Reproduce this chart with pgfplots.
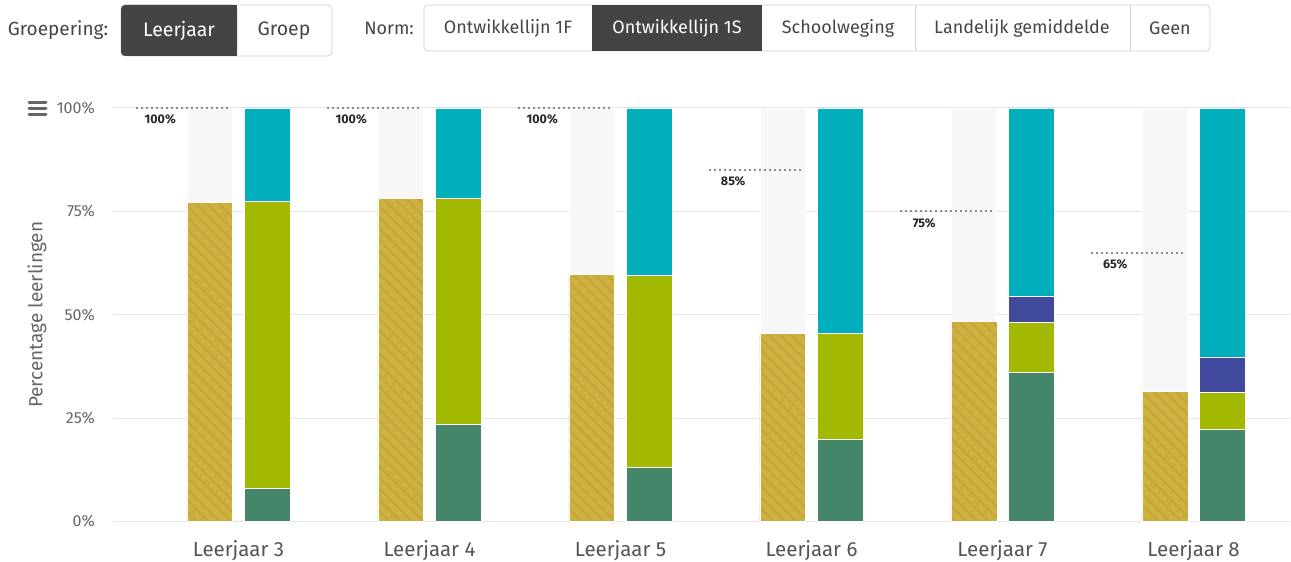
\documentclass[border=0pt]{standalone}
\usepackage{pgfplots}
\pgfplotsset{compat=1.18}
\usepackage{pgfplotstable}
\usepackage{fontspec}
\setmainfont{Fira Sans}
\usetikzlibrary{patterns.meta}
\definecolor{gold}{RGB}{206,176,64}
\definecolor{goldline}{RGB}{195,165,57}
\definecolor{bggrey}{RGB}{247,247,247}
\definecolor{cyanbar}{RGB}{0,175,187}
\definecolor{ygreen}{RGB}{163,184,0}
\definecolor{dgreen}{RGB}{67,134,106}
\definecolor{bluebar}{RGB}{64,73,155}
\definecolor{gridc}{RGB}{230,230,230}
\definecolor{labc}{RGB}{102,102,102}
\definecolor{xlabc}{RGB}{85,85,85}
\definecolor{btndark}{RGB}{68,68,68}
\definecolor{btnborder}{RGB}{210,210,210}
\definecolor{btntext}{RGB}{70,70,70}
\definecolor{dotc}{RGB}{140,140,140}

\pgfplotstableread{
x  bg   gold  norm  dg    yg    blue  cyan
0  100  77.2  100   8.0   69.5  0.0   22.5
1  100  78.2  100   23.5  54.7  0.0   21.8
2  100  59.8  100   13.1  46.5  0.0   40.4
3  100  45.5  85    19.9  25.6  0.0   54.5
4  100  48.3  75    36.1  12.1  6.3   45.5
5  100  31.5  65    22.3  8.8   8.7   60.2
}\data

\begin{document}
\begin{tikzpicture}[x=1pt,y=1pt]
\useasboundingbox (0pt,0pt) rectangle (1291pt,562pt);
\fill[white] (0pt,0pt) rectangle (1291pt,562pt);

% ---------- top controls ----------
\node[font=\fontsize{19}{22}\selectfont, text=btntext] at (58pt,532pt) {Groepering:};
\draw[btnborder, line width=0.8pt, fill=white, rounded corners=4pt] (121pt,506pt) rectangle (332pt,557pt);
\fill[btndark, rounded corners=4pt] (121pt,506pt) rectangle (237pt,557pt);
\fill[btndark] (200pt,506pt) rectangle (237pt,557pt);
\node[font=\fontsize{19.5}{22}\selectfont, text=white] at (179pt,531pt) {Leerjaar};
\node[font=\fontsize{19.5}{22}\selectfont, text=btntext] at (284pt,531pt) {Groep};

\node[font=\fontsize{18}{21}\selectfont, text=btntext] at (389pt,534pt) {Norm:};
\draw[btnborder, line width=0.8pt, fill=white, rounded corners=4pt] (424pt,511pt) rectangle (1210pt,557pt);
\fill[btndark] (592pt,511pt) rectangle (762pt,557pt);
\foreach \xx in {915,1130} {\draw[btnborder, line width=0.8pt] (\xx pt,511pt) -- (\xx pt,557pt);}
\node[font=\fontsize{18}{21}\selectfont, text=btntext] at (508pt,534pt) {Ontwikkellijn 1F};
\node[font=\fontsize{18}{21}\selectfont, text=white] at (677pt,534pt) {Ontwikkellijn 1S};
\node[font=\fontsize{18}{21}\selectfont, text=btntext] at (838pt,534pt) {Schoolweging};
\node[font=\fontsize{18}{21}\selectfont, text=btntext] at (1022pt,534pt) {Landelijk gemiddelde};
\node[font=\fontsize{18}{21}\selectfont, text=btntext] at (1170pt,534pt) {Geen};

% hamburger icon
\foreach \yy in {459,453,447} {\draw[labc, line width=3pt, line cap=round] (29pt,\yy pt) -- (46pt,\yy pt);}

% ---------- main axis ----------
\begin{axis}[
  at={(113pt,40.5pt)}, anchor=south west,
  scale only axis, width=1177pt, height=413.5pt,
  xmin=-0.657, xmax=5.505, ymin=0, ymax=100,
  axis line style={draw=none},
  major tick length=0pt,
  ymajorgrids, grid style={gridc, line width=1pt},
  ytick={0,25,50,75,100},
  yticklabels={0\%,25\%,50\%,75\%,100\%},
  yticklabel style={font=\fontsize{16}{18}\selectfont, text=labc, anchor=east, inner sep=0pt, xshift=-18pt},
  xtick={0,1,2,3,4,5},
  xticklabels={Leerjaar 3,Leerjaar 4,Leerjaar 5,Leerjaar 6,Leerjaar 7,Leerjaar 8},
  xticklabel style={font=\fontsize{20.5}{23}\selectfont, text=xlabc, anchor=base, inner sep=0pt, yshift=-35.5pt},
  every axis y label/.style={at={(axis description cs:-0.0646,0.5)}, rotate=90, anchor=center, font=\fontsize{19}{22}\selectfont, text=labc},
  ylabel={Percentage leerlingen},
  unbounded coords=jump,
  clip=false,
]
% grey background of the left bars
\addplot[ybar, bar width=0.24, bar shift=0pt, fill=bggrey, draw=white, line width=0.8pt]
  table[x expr=\thisrow{x}-0.15, y=bg] \data;
% gold hatched bars
\addplot[ybar, bar width=0.24, bar shift=0pt, fill=gold, draw=white, line width=0.6pt,
  postaction={pattern={Lines[angle=-45,distance=8pt,line width=1.8pt]}, pattern color=goldline}]
  table[x expr=\thisrow{x}-0.15, y=gold] \data;
% norm dotted lines
\addplot[dotc, line width=2pt, dash pattern=on 2pt off 3pt, mark=none] coordinates {
  (-0.537,100) (-0.04,100) (0,nan)
  (0.463,100) (0.96,100) (1,nan)
  (1.463,100) (1.96,100) (2,nan)
  (2.463,85) (2.96,85) (3,nan)
  (3.463,75) (3.96,75) (4,nan)
  (4.463,65) (4.96,65)
};
% norm labels
\addplot[draw=none, mark=none, point meta=y,
  nodes near coords={\pgfmathprintnumber[assume math mode=true]{\pgfplotspointmeta}\%},
  every node near coord/.append style={anchor=center, yshift=-11.5pt, font=\fontsize{12.5}{14}\selectfont\bfseries, text=black!85}]
  table[x expr=\thisrow{x}-0.41, y=norm] \data;
\end{axis}

% ---------- stacked right bars ----------
\begin{axis}[
  at={(113pt,40.5pt)}, anchor=south west,
  scale only axis, width=1177pt, height=413.5pt,
  xmin=-0.657, xmax=5.505, ymin=0, ymax=100,
  hide axis,
  ybar stacked, bar width=0.24,
  every axis plot post/.append style={bar shift=0pt, draw=white, line width=0.8pt},
]
\addplot[fill=dgreen] table[x expr=\thisrow{x}+0.15, y=dg] \data;
\addplot[fill=ygreen] table[x expr=\thisrow{x}+0.15, y=yg] \data;
\addplot[fill=bluebar] table[x expr=\thisrow{x}+0.15, y=blue] \data;
\addplot[fill=cyanbar] table[x expr=\thisrow{x}+0.15, y=cyan] \data;
\end{axis}
\end{tikzpicture}
\end{document}
